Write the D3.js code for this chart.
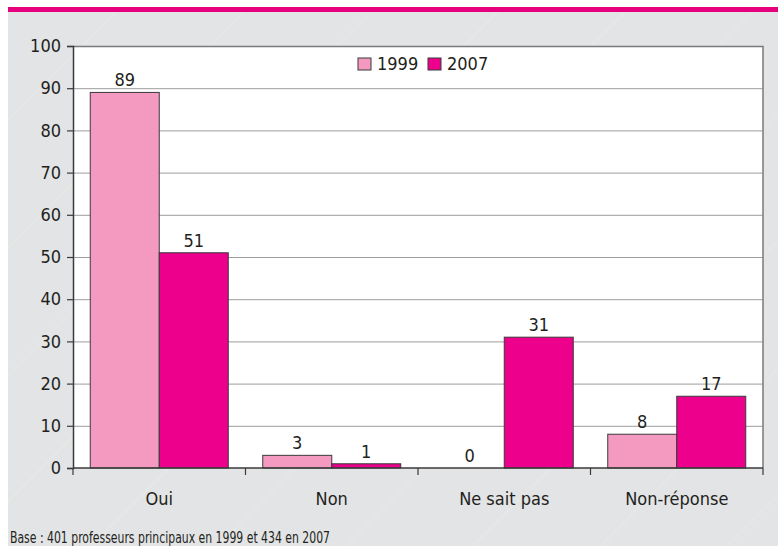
<!DOCTYPE html>
<html>
<head>
<meta charset="utf-8">
<script src="https://cdn.jsdelivr.net/npm/d3@7"></script>
<style>
  body { margin: 0; background: #fff; }
  svg text { font-family: "Liberation Sans Narrow", "DejaVu Sans Condensed", sans-serif; fill: #231f20; }
</style>
</head>
<body>
<div id="chart"></div>
<script>
var categories = ["Oui", "Non", "Ne sait pas", "Non-réponse"]
var years = ["1999", "2007"]
var values1999 = [89, 3, 0, 8]
var values2007 = [51, 1, 31, 17]
var yTicks = [0, 10, 20, 30, 40, 50, 60, 70, 80, 90, 100]
var footnote = "Base : 401 professeurs principaux en 1999 et 434 en 2007"

var colors = { "1999": "#f49ac1", "2007": "#ec008c" }

var width = 781, height = 546
var margin = { top: 46, right: 18, bottom: 78, left: 73 }
var innerW = width - margin.left - margin.right
var innerH = height - margin.top - margin.bottom

var svg = d3.select("#chart").append("svg")
    .attr("width", width)
    .attr("height", height)

// background panel with faint diagonal streaks
var defs = svg.append("defs")
var pat = defs.append("pattern")
    .attr("id", "streaks")
    .attr("patternUnits", "userSpaceOnUse")
    .attr("width", 90).attr("height", 90)
    .attr("patternTransform", "rotate(-45)")
pat.append("rect").attr("width", 90).attr("height", 90).attr("fill", "#e3e4e5")
pat.append("line").attr("x1", 0).attr("y1", 0).attr("x2", 90).attr("y2", 0)
    .attr("stroke", "#ebecec").attr("stroke-width", 1.2)

svg.append("rect")
    .attr("x", 8).attr("y", 11)
    .attr("width", 770).attr("height", height - 11)
    .attr("fill", "url(#streaks)")

svg.append("rect")
    .attr("x", 8).attr("y", 7)
    .attr("width", 770).attr("height", 5)
    .attr("fill", "#e6007e")

var g = svg.append("g")
    .attr("transform", "translate(" + margin.left + "," + margin.top + ")")

var x0 = d3.scaleBand()
    .domain(categories)
    .range([0, innerW])
    .paddingInner(0.2)
    .paddingOuter(0.1)

var x1 = d3.scaleBand()
    .domain(years)
    .range([0, x0.bandwidth()])

var y = d3.scaleLinear()
    .domain([0, 100])
    .range([innerH, 0])

// plot area
g.append("rect")
    .attr("width", innerW).attr("height", innerH)
    .attr("fill", "#fff")

// gridlines
g.append("g")
    .selectAll("line")
    .data(yTicks.filter(function (d) { return d > 0 && d < 100 }))
    .enter().append("line")
    .attr("x1", 0).attr("x2", innerW)
    .attr("y1", function (d) { return y(d) + 0.5 })
    .attr("y2", function (d) { return y(d) + 0.5 })
    .attr("stroke", "#9d9d9d")
    .attr("stroke-width", 1)

// frame (top/right)
g.append("path")
    .attr("d", "M0,0.5H" + innerW + "V" + innerH)
    .attr("fill", "none")
    .attr("stroke", "#7a7a7a")
    .attr("stroke-width", 1.5)

var data = categories.map(function (c, i) {
    return { cat: c, vals: [{ year: "1999", v: values1999[i] }, { year: "2007", v: values2007[i] }] }
})

var groups = g.selectAll(".grp")
    .data(data)
    .enter().append("g")
    .attr("class", "grp")
    .attr("transform", function (d) { return "translate(" + x0(d.cat) + ",0)" })

groups.selectAll("rect")
    .data(function (d) { return d.vals })
    .enter().append("rect")
    .attr("x", function (d) { return x1(d.year) })
    .attr("y", function (d) { return y(d.v) })
    .attr("width", x1.bandwidth())
    .attr("height", function (d) { return innerH - y(d.v) })
    .attr("fill", function (d) { return colors[d.year] })
    .attr("stroke", "#3a3a3a")
    .attr("stroke-width", 1)

groups.selectAll("text")
    .data(function (d) { return d.vals })
    .enter().append("text")
    .attr("x", function (d) { return x1(d.year) + x1.bandwidth() / 2 })
    .attr("y", function (d) { return y(d.v) - 6 })
    .attr("text-anchor", "middle")
    .attr("font-size", "18px")
    .text(function (d) { return d.v })

// y axis
var yAxis = g.append("g")
    .call(d3.axisLeft(y).tickValues(yTicks).tickSize(6).tickPadding(6))
yAxis.select(".domain").attr("stroke", "#3a3a3a").attr("stroke-width", 1.5)
yAxis.selectAll(".tick line").attr("stroke", "#3a3a3a").attr("stroke-width", 1.2)
yAxis.selectAll(".tick text")
    .attr("font-size", "18px")
    .attr("fill", "#231f20")
    .style("font-family", "'Liberation Sans Narrow', 'DejaVu Sans Condensed', sans-serif")

// x axis
var xAxis = g.append("g")
    .attr("transform", "translate(0," + innerH + ")")
xAxis.append("line")
    .attr("x1", 0).attr("x2", innerW)
    .attr("y1", 0).attr("y2", 0)
    .attr("stroke", "#3a3a3a").attr("stroke-width", 1.5)
var bounds = categories.map(function (c) { return x0(c) - x0.step() * x0.paddingInner() / 2 })
bounds.push(innerW)
xAxis.selectAll(".xt")
    .data(bounds)
    .enter().append("line")
    .attr("x1", function (d) { return d }).attr("x2", function (d) { return d })
    .attr("y1", 0).attr("y2", 7)
    .attr("stroke", "#3a3a3a").attr("stroke-width", 1.2)
xAxis.selectAll(".xl")
    .data(categories)
    .enter().append("text")
    .attr("x", function (d) { return x0(d) + x0.bandwidth() / 2 })
    .attr("y", 37)
    .attr("text-anchor", "middle")
    .attr("font-size", "18px")
    .text(function (d) { return d })

// legend
var legend = g.append("g").attr("transform", "translate(285,12)")
var item = legend.selectAll(".leg")
    .data(years)
    .enter().append("g")
    .attr("transform", function (d, i) { return "translate(" + (i * 70) + ",0)" })
item.append("rect")
    .attr("width", 13).attr("height", 12)
    .attr("fill", function (d) { return colors[d] })
    .attr("stroke", "#3a3a3a").attr("stroke-width", 1)
item.append("text")
    .attr("x", 19).attr("y", 12)
    .attr("font-size", "18px")
    .text(function (d) { return d })

// footnote
svg.append("text")
    .attr("x", 10).attr("y", 543)
    .attr("font-size", "15.5px")
    .attr("fill", "#3a3a3a")
    .attr("textLength", 320)
    .attr("lengthAdjust", "spacingAndGlyphs")
    .text(footnote)
</script>
</body>
</html>
